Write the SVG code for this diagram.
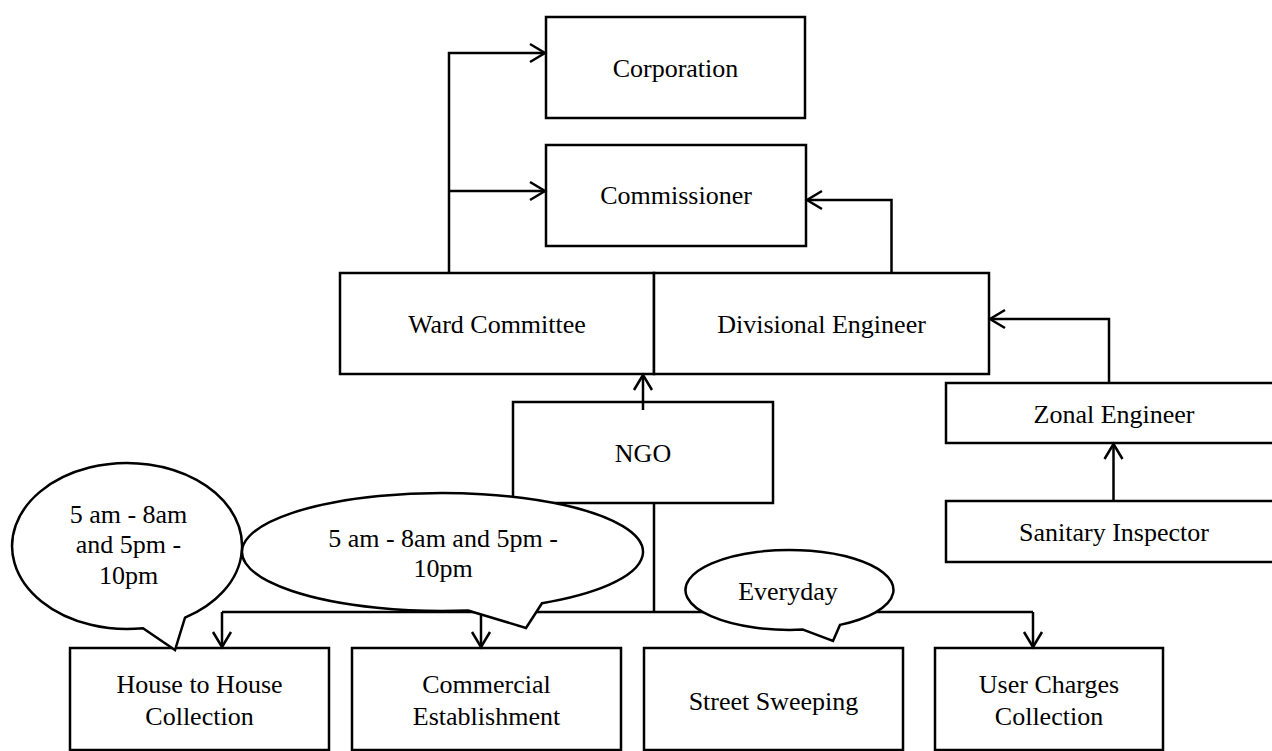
<svg xmlns="http://www.w3.org/2000/svg" width="1272" height="751" viewBox="0 0 1272 751">
<style>
.box{fill:#fff;stroke:#000;stroke-width:2.5}
.lbl{font-family:"Liberation Serif","Times New Roman",serif;font-size:26px;fill:#000;text-anchor:middle}
.con{fill:none;stroke:#000;stroke-width:2.5}
.call{fill:#fff;stroke:#000;stroke-width:2.5;stroke-linejoin:miter}
</style>
<defs>
<marker id="arr" markerUnits="userSpaceOnUse" markerWidth="24" markerHeight="24" viewBox="-18 -12 20 24" refX="0" refY="0" orient="auto">
<path d="M-15,-9 L0,0 L-15,9" fill="none" stroke="#000" stroke-width="2.5"/>
</marker>
</defs>
<rect width="1272" height="751" fill="#fff"/>

<g id="corporation"><rect class="box" x="546" y="17" width="259" height="101"/><text class="lbl" x="675.5" y="77">Corporation</text></g>
<g id="commissioner"><rect class="box" x="546" y="145" width="260" height="101"/><text class="lbl" x="676" y="204">Commissioner</text></g>
<g id="ward-committee"><rect class="box" x="340" y="273" width="314" height="101"/><text class="lbl" x="497" y="333">Ward Committee</text></g>
<g id="divisional-engineer"><rect class="box" x="654" y="273" width="335" height="101"/><text class="lbl" x="821.5" y="333">Divisional Engineer</text></g>
<g id="ngo"><rect class="box" x="513" y="402" width="260" height="101"/><text class="lbl" x="643" y="462">NGO</text></g>
<g id="zonal-engineer"><rect class="box" x="946" y="383" width="340" height="60"/><text class="lbl" x="1114" y="423">Zonal Engineer</text></g>
<g id="sanitary-inspector"><rect class="box" x="946" y="501" width="340" height="61"/><text class="lbl" x="1114" y="541">Sanitary Inspector</text></g>
<g id="house-to-house"><rect class="box" x="70" y="648" width="259" height="102"/><text class="lbl" x="199.5" y="693">House to House</text><text class="lbl" x="199.5" y="725">Collection</text></g>
<g id="commercial"><rect class="box" x="352" y="648" width="269" height="102"/><text class="lbl" x="486.5" y="693">Commercial</text><text class="lbl" x="486.5" y="725">Establishment</text></g>
<g id="street-sweeping"><rect class="box" x="644" y="648" width="259" height="102"/><text class="lbl" x="773.5" y="710">Street Sweeping</text></g>
<g id="user-charges"><rect class="box" x="935" y="648" width="228" height="102"/><text class="lbl" x="1049" y="693">User Charges</text><text class="lbl" x="1049" y="725">Collection</text></g>

<g id="connectors">
<path class="con" d="M449 273 V53 H545" marker-end="url(#arr)"/>
<path class="con" d="M449 191 H545" marker-end="url(#arr)"/>
<path class="con" d="M891.5 273 V200 H807" marker-end="url(#arr)"/>
<path class="con" d="M643 410 V375" marker-end="url(#arr)"/>
<path class="con" d="M1109 383 V319 H990" marker-end="url(#arr)"/>
<path class="con" d="M1113.5 501 V444" marker-end="url(#arr)"/>
<path class="con" d="M654 503 V612"/>
<path class="con" d="M222 612 H1033"/>
<path class="con" d="M222 612 V647" marker-end="url(#arr)"/>
<path class="con" d="M481 612 V647" marker-end="url(#arr)"/>
<path class="con" d="M1033 612 V647" marker-end="url(#arr)"/>
</g>

<g id="callout-left">
<path class="call" d="M143 628.2 L175 650 L185 617.7 A115 83 0 1 0 143 628.2 Z"/>
<text class="lbl" x="128.5" y="523">5 am - 8am</text>
<text class="lbl" x="128.5" y="553">and 5pm -</text>
<text class="lbl" x="128.5" y="584">10pm</text>
</g>
<g id="callout-middle">
<path class="call" d="M468 610.5 L526 628 L542 603.2 A200.5 59 0 1 0 468 610.5 Z"/>
<text class="lbl" x="443" y="547">5 am - 8am and 5pm -</text>
<text class="lbl" x="443" y="577">10pm</text>
</g>
<g id="callout-everyday">
<path class="call" d="M803 629.6 L833 641 L840 624.9 A104 40 0 1 0 803 629.6 Z"/>
<text class="lbl" x="788" y="600">Everyday</text>
</g>
</svg>
